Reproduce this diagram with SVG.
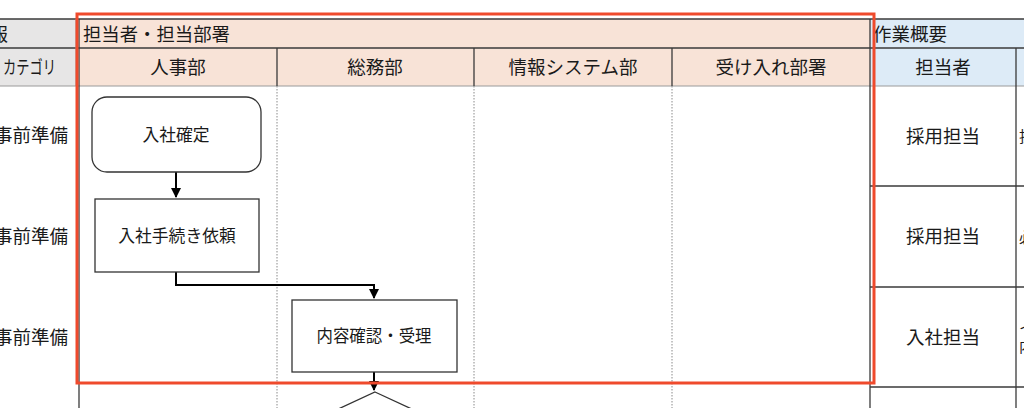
<svg xmlns="http://www.w3.org/2000/svg" width="1024" height="408" viewBox="0 0 1024 408">
<style>
text{font-family:"Noto Sans CJK JP","Noto Sans",sans-serif;fill:#1a1a1a}
.h{font-size:18.5px}
.b{font-size:16.8px}
.s{font-size:15px}
.grid{stroke:#3a3a3a;stroke-width:1.3;fill:none}
.lite{stroke:#9a9a9a;stroke-width:1;fill:none}
.dot{stroke:#8a8a8a;stroke-width:1;stroke-dasharray:1.5 1.5;fill:none}
.node{fill:#fff;stroke:#333;stroke-width:1.3}
.conn{stroke:#000;stroke-width:2;fill:none}
</style>
<defs>
<marker id="ah" viewBox="0 0 10 10" refX="9" refY="5" markerWidth="5" markerHeight="5" orient="auto" markerUnits="strokeWidth">
<path d="M0,0 L10,5 L0,10 z" fill="#000"/>
</marker>
</defs>
<rect x="0" y="0" width="1024" height="408" fill="#fff"/>
<g id="table">
<rect x="0" y="19" width="77" height="67" fill="#e7e6e6"/>
<rect x="79" y="19" width="791" height="67" fill="#f8e3d7"/>
<rect x="870" y="19" width="154" height="67" fill="#ddebf7"/>
<line class="grid" x1="0" y1="19" x2="1024" y2="19"/>
<line class="grid" x1="0" y1="48" x2="1024" y2="48"/>
<line class="lite" x1="0" y1="86" x2="1024" y2="86"/>
<line class="lite" x1="76" y1="19" x2="76" y2="86"/>
<line class="grid" x1="79" y1="19" x2="79" y2="408"/>
<line class="grid" x1="277" y1="48" x2="277" y2="86"/>
<line class="grid" x1="474" y1="48" x2="474" y2="86"/>
<line class="grid" x1="672" y1="48" x2="672" y2="86"/>
<line class="dot" x1="277" y1="86" x2="277" y2="408"/>
<line class="dot" x1="474" y1="86" x2="474" y2="408"/>
<line class="dot" x1="672" y1="86" x2="672" y2="408"/>
<line class="grid" x1="870" y1="19" x2="870" y2="408"/>
<line class="grid" x1="1016" y1="48" x2="1016" y2="408"/>
<line class="grid" x1="870" y1="186" x2="1024" y2="186"/>
<line class="grid" x1="870" y1="287" x2="1024" y2="287"/>
<line class="grid" x1="870" y1="387" x2="1024" y2="387"/>
<text class="h" x="8" y="41" text-anchor="end">報</text>
<text class="h" x="3" y="74" textLength="53" lengthAdjust="spacingAndGlyphs">カテゴリ</text>
<text class="h" x="83" y="41" textLength="147" lengthAdjust="spacingAndGlyphs">担当者・担当部署</text>
<text class="h" x="873" y="41">作業概要</text>
<text class="h" x="178" y="74" text-anchor="middle">人事部</text>
<text class="h" x="375" y="74" text-anchor="middle">総務部</text>
<text class="h" x="573" y="74" text-anchor="middle">情報システム部</text>
<text class="h" x="771" y="74" text-anchor="middle">受け入れ部署</text>
<text class="h" x="943" y="74" text-anchor="middle">担当者</text>
<text class="h" x="68" y="142" text-anchor="end">事前準備</text>
<text class="h" x="68" y="243" text-anchor="end">事前準備</text>
<text class="h" x="68" y="344" text-anchor="end">事前準備</text>
<text class="h" x="943" y="143" text-anchor="middle">採用担当</text>
<text class="h" x="943" y="243" text-anchor="middle">採用担当</text>
<text class="h" x="943" y="344" text-anchor="middle">入社担当</text>
<text class="s" x="1019" y="142">担</text>
<text class="s" x="1019" y="243">必</text>
<text class="s" x="1019" y="333">イ</text>
<text class="s" x="1019" y="352">内</text>
</g>
<g id="connectors">
<line class="conn" x1="176" y1="172" x2="176" y2="197" marker-end="url(#ah)"/>
<polyline class="conn" points="176,272 176,285 374,285 374,298" marker-end="url(#ah)"/>
<line class="conn" x1="374" y1="372" x2="374" y2="390" marker-end="url(#ah)"/>
</g>
<g id="n1">
<rect class="node" x="92" y="97" width="169" height="75" rx="15"/>
<text class="b" x="176" y="141" text-anchor="middle">入社確定</text>
</g>
<g id="n2">
<rect class="node" x="95" y="199" width="164" height="73"/>
<text class="b" x="177" y="242" text-anchor="middle">入社手続き依頼</text>
</g>
<g id="n3">
<rect class="node" x="292" y="300" width="165" height="72"/>
<text class="b" x="374" y="342" text-anchor="middle" textLength="115" lengthAdjust="spacingAndGlyphs">内容確認・受理</text>
</g>
<g id="n4">
<polygon class="node" points="375,392 455,429 375,466 295,429"/>
</g>
<rect id="highlight" x="77" y="14" width="797" height="369" fill="none" stroke="#ef4a2c" stroke-width="3"/>
</svg>
